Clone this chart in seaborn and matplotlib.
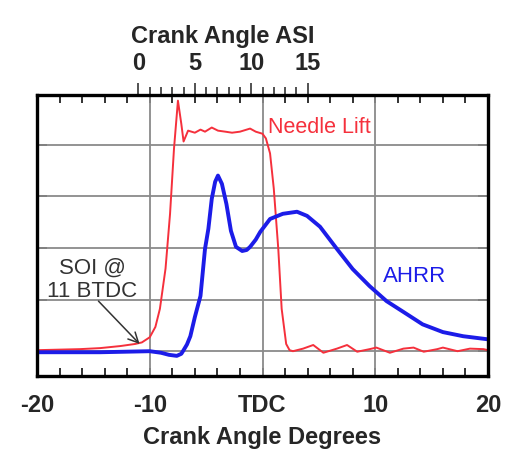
import matplotlib
matplotlib.use("Agg")
import matplotlib.pyplot as plt
import numpy as np
import pandas as pd
import seaborn as sns

# needle lift trace (crank angle deg, grid units)
lift_deg = [-20, -16.2, -14.4, -12.6, -11.3, -10.7, -10.0, -9.5, -9.1, -8.6, -8.2, -7.85,
            -7.5, -7.2, -7.0, -6.6, -6.0, -5.5, -5.1, -4.5, -3.95, -3.3, -2.7, -2.0,
            -1.1, -0.6, 0.0, 0.3, 0.67, 1.0, 1.4, 1.7, 2.1, 2.4, 2.7, 3.6, 4.5, 5.4,
            6.6, 7.5, 8.4, 9.5, 10.1, 11.3, 12.5, 13.4, 14.3, 15.5, 16.0, 17.3, 18.4,
            19.6, 20]
lift_val = [0.02, 0.04, 0.06, 0.1, 0.14, 0.17, 0.27, 0.47, 0.82, 1.6, 2.66, 3.92,
            4.85, 4.4, 4.06, 4.27, 4.23, 4.29, 4.25, 4.33, 4.27, 4.25, 4.23, 4.25,
            4.31, 4.25, 4.21, 4.12, 3.83, 3.15, 1.98, 0.82, 0.14, 0.02, 0.0, 0.05,
            0.12, -0.03, 0.05, 0.12, -0.01, 0.04, 0.07, -0.03, 0.05, 0.07, -0.01,
            0.04, 0.07, 0.0, 0.05, 0.04, 0.02]

# apparent heat release rate trace
ahrr_deg = [-20, -14.4, -10.0, -9.0, -8.3, -7.6, -7.2, -7.0, -6.7, -6.4, -6.0, -5.5,
            -5.1, -4.8, -4.5, -4.2, -3.95, -3.6, -3.2, -2.8, -2.35, -1.8, -1.4, -1.1,
            -0.6, -0.2, 0.67, 1.8, 3.06, 3.95, 5.1, 6.6, 8.0, 9.5, 11.0, 12.5, 14.2,
            16.0, 17.8, 20.0]
ahrr_val = [-0.02, -0.02, 0.0, -0.03, -0.07, -0.09, -0.05, 0.02, 0.13, 0.29, 0.66, 1.07,
            1.98, 2.37, 2.95, 3.28, 3.40, 3.24, 2.85, 2.33, 2.02, 1.94, 1.96, 2.02,
            2.16, 2.31, 2.56, 2.66, 2.70, 2.62, 2.41, 1.98, 1.59, 1.26, 0.97, 0.76, 0.52,
            0.37, 0.29, 0.23]

x_ticks = [-20, -10, 0, 10, 20]
x_labels = ["-20", "-10", "TDC", "10", "20"]
asi_ticks = [0, 5, 10, 15]
soi_btdc = 11

lift = pd.DataFrame({"deg": lift_deg, "val": lift_val})
ahrr = pd.DataFrame({"deg": ahrr_deg, "val": ahrr_val})

sns.set_style("white")
plt.rcParams["font.family"] = ["Liberation Sans", "DejaVu Sans"]

fig = plt.figure(figsize=(5.05, 4.52), dpi=100)
ax = fig.add_axes([37 / 505, 1 - 377 / 452, 451 / 505, 281 / 452])

# grid
for gx in [-10, 0, 10]:
    ax.axvline(gx, color="#8a8a8a", lw=1.3, zorder=1)
for gy in range(5):
    ax.axhline(gy, color="#8a8a8a", lw=1.3, zorder=1)

sns.lineplot(data=lift, x="deg", y="val", color="#f5303c", lw=1.4,
             estimator=None, sort=False, ax=ax, zorder=3)
sns.lineplot(data=ahrr, x="deg", y="val", color="#1c1ce8", lw=2.8,
             estimator=None, sort=False, ax=ax, zorder=4)

ax.set_xlim(-20, 20)
ax.set_ylim(-0.48, 4.96)

ax.set_xticks(x_ticks)
ax.set_xticklabels(x_labels, fontsize=17, fontweight="bold")
ax.set_xticks(np.arange(-18, 20, 2), minor=True)
ax.tick_params(axis="x", which="both", direction="in", top=True, bottom=True,
               length=6, width=1.3, color="#222222", pad=12)
ax.set_yticks(range(5))
ax.set_yticklabels([])
ax.tick_params(axis="y", which="both", direction="in", left=True, right=True,
               length=7, width=1.3, color="#222222")
ax.set_xlabel("Crank Angle Degrees", fontsize=17, fontweight="bold", labelpad=6.5)
ax.set_ylabel("")

for s in ax.spines.values():
    s.set_linewidth(2.4)
    s.set_color("black")
    s.set_zorder(6)

# top axis: crank angle after start of injection
sec = ax.secondary_xaxis("top", functions=(lambda d: d + soi_btdc, lambda a: a - soi_btdc))
sec.set_xticks(asi_ticks)
sec.set_xticklabels([str(t) for t in asi_ticks], fontsize=17, fontweight="bold")
sec.set_xticks(np.arange(0, 16, 1), minor=True)
sec.tick_params(which="major", direction="out", length=9, width=1.2, color="#333333", pad=6)
sec.tick_params(which="minor", direction="out", length=6, width=1.2, color="#333333")
sec.spines["top"].set_visible(False)
ax.text(7.5 - soi_btdc, (377 - 37) / 281, "Crank Angle ASI", transform=ax.get_xaxis_transform(),
        ha="center", va="center", fontsize=17, fontweight="bold")

ax.text(0.5, 4.35, "Needle Lift", color="#f5303c", fontsize=15.5, va="center", ha="left")
ax.text(10.7, 1.46, "AHRR", color="#1c1ce8", fontsize=16, va="center", ha="left")
ax.text(-15.1, 1.40, "SOI @\n11 BTDC", ha="center", va="center", fontsize=16,
        color="#333333", linespacing=1.15)
ax.annotate("", xy=(-10.9, 0.14), xytext=(-14.55, 0.97),
            arrowprops=dict(arrowstyle="->", color="#333333", lw=1.1,
                            shrinkA=0, shrinkB=0, mutation_scale=18))

fig.savefig("out.png", dpi=100)
